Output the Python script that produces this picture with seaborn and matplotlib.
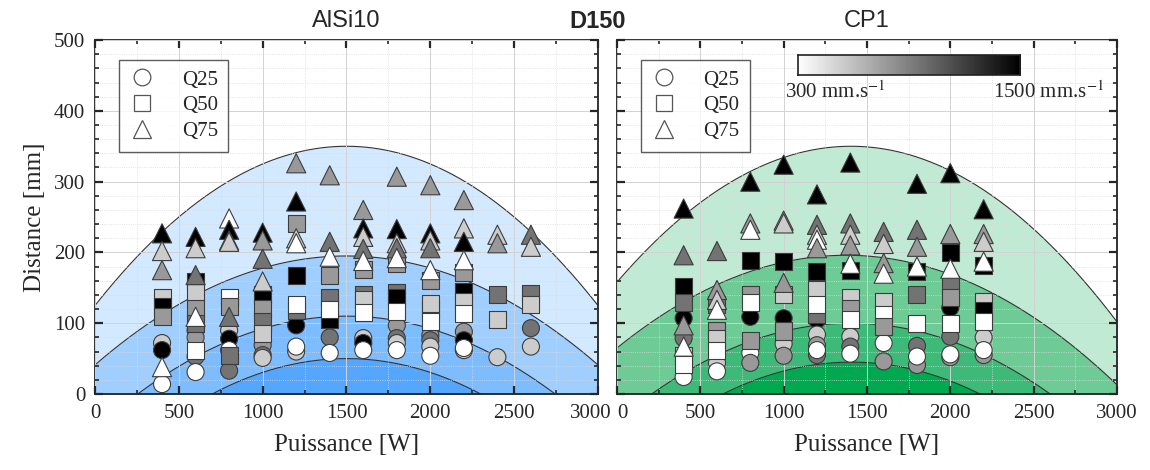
import numpy as np
import pandas as pd
import seaborn as sns
import matplotlib.pyplot as plt
from matplotlib.lines import Line2D
from matplotlib.ticker import MultipleLocator, FuncFormatter
from matplotlib.transforms import ScaledTranslation

W, L, G, D, B = 300, 540, 780, 960, 1500

# ---- AlSi10 ----
al_q75_power = [400, 400, 400, 400, 600, 600, 600, 600, 800, 800, 800, 800, 800,
                1000, 1000, 1000, 1000, 1200, 1200, 1200, 1200, 1400, 1400, 1400,
                1600, 1600, 1600, 1600, 1600, 1800, 1800, 1800, 1800, 1800,
                2000, 2000, 2000, 2000, 2000, 2200, 2200, 2200, 2200, 2400, 2400, 2600, 2600]
al_q75_dist = [227, 202, 175, 38, 222, 206, 168, 109, 248, 232, 217, 215, 109,
               228, 217, 191, 159, 326, 272, 220, 213, 309, 215, 194,
               260, 234, 222, 205, 188, 307, 233, 213, 206, 192,
               295, 227, 217, 206, 175, 274, 234, 215, 189, 225, 213, 225, 208]
al_q75_speed = [B, L, G, W, B, L, D, W, W, B, G, L, D,
                B, G, D, L, G, B, L, W, G, D, W,
                G, B, L, D, W, G, B, L, D, W,
                G, B, L, D, W, G, L, B, W, L, G, D, L]

al_q50_power = [400, 400, 400, 600, 600, 600, 600, 600, 800, 800, 800,
                1000, 1000, 1000, 1000, 1200, 1200, 1200, 1200, 1400, 1400, 1400, 1400,
                1600, 1600, 1600, 1600, 1800, 1800, 1800, 1800, 2000, 2000, 2000, 2000,
                2200, 2200, 2200, 2200, 2400, 2400, 2600, 2600]
al_q50_dist = [137, 124, 109, 159, 143, 121, 100, 61, 137, 123, 55,
               141, 121, 102, 85, 241, 168, 118, 126, 167, 137, 105, 120,
               176, 140, 134, 115, 184, 143, 136, 116, 161, 120, 128, 102,
               171, 145, 130, 114, 141, 105, 142, 126]
al_q50_speed = [L, B, G, B, L, G, D, W, W, G, D,
                B, G, D, L, G, B, D, W, G, D, B, W,
                G, D, L, W, G, D, B, W, G, D, L, W,
                G, B, L, W, D, L, D, L]

al_q25_power = [400, 400, 400, 600, 600, 600, 600, 800, 800, 800, 800,
                1000, 1000, 1000, 1200, 1200, 1200, 1400, 1400, 1600, 1600, 1600,
                1800, 1800, 1800, 1800, 2000, 2000, 2000, 2000, 2200, 2200, 2200, 2200,
                2400, 2600, 2600]
al_q25_dist = [72, 62, 14, 90, 80, 53, 31, 90, 78, 62, 33,
               69, 55, 51, 97, 60, 67, 80, 58, 79, 72, 62,
               97, 79, 72, 62, 83, 76, 67, 54, 88, 76, 62, 65,
               52, 93, 67]
al_q25_speed = [L, B, W, L, G, D, W, L, B, W, D,
                G, D, L, B, L, W, D, W, L, B, W,
                G, D, L, W, G, D, L, W, G, B, L, W,
                L, D, L]

# ---- CP1 ----
cp_q75_power = [400, 400, 400, 400, 600, 600, 600, 600, 800, 800, 800,
                1000, 1000, 1000, 1000, 1200, 1200, 1200, 1200, 1200,
                1400, 1400, 1400, 1400, 1400, 1600, 1600, 1600, 1600,
                1800, 1800, 1800, 1800, 2000, 2000, 2000, 2200, 2200, 2200, 2200]
cp_q75_dist = [262, 196, 97, 67, 202, 147, 133, 119, 300, 241, 232,
               324, 245, 241, 157, 282, 239, 225, 218, 206,
               327, 241, 225, 210, 184, 229, 212, 185, 170,
               297, 232, 208, 180, 312, 226, 177, 261, 226, 215, 187]
cp_q75_speed = [B, D, G, W, D, G, L, W, B, G, W,
                B, G, L, G, B, D, L, W, G,
                B, D, L, G, W, D, L, G, W,
                B, D, G, W, B, G, W, B, G, L, W]

cp_q50_power = [400, 400, 400, 400, 600, 600, 600, 600, 800, 800, 800, 800,
                1000, 1000, 1000, 1200, 1200, 1200, 1200, 1400, 1400, 1400, 1400,
                1600, 1600, 1600, 1800, 1800, 1800, 2000, 2000, 2000, 2000,
                2200, 2200, 2200, 2200]
cp_q50_dist = [152, 129, 55, 41, 126, 90, 79, 62, 189, 141, 129, 76,
               187, 141, 89, 173, 147, 112, 127, 175, 137, 121, 105,
               130, 112, 95, 173, 140, 100, 200, 154, 137, 99,
               181, 130, 118, 102]
cp_q50_speed = [B, D, L, W, D, G, L, W, B, G, W, G,
                B, L, G, B, L, D, W, B, L, G, W,
                L, W, G, B, D, W, B, D, G, W,
                B, L, B, W]

cp_q25_power = [400, 400, 400, 600, 600, 800, 800, 800, 1000, 1000, 1000,
                1200, 1200, 1200, 1200, 1200, 1400, 1400, 1400, 1600, 1600,
                1800, 1800, 1800, 2000, 2000, 2000, 2000, 2200, 2200, 2200]
cp_q25_dist = [107, 79, 24, 44, 32, 109, 58, 44, 107, 71, 54,
               105, 84, 69, 55, 62, 81, 67, 57, 72, 46,
               68, 41, 53, 122, 81, 52, 56, 80, 55, 62]
cp_q25_speed = [B, D, W, L, W, B, W, G, B, L, G,
                B, L, G, D, W, L, D, W, W, G,
                D, G, W, B, D, G, W, L, G, W]

# envelopes: peak distance, peak power, curvature (outer -> inner)
al_env_peak = [350, 195, 110, 50]
al_env_center = [1500, 1500, 1500, 1500]
al_env_curv = [1.0e-4, 6.84e-5, 7.1e-5, 7.8e-5]
al_env_colors = ["#d3e9ff", "#a0ceff", "#7dbcff", "#55a6ff"]

cp_env_peak = [350, 196, 100, 45]
cp_env_center = [1404, 1375, 1404, 1407]
cp_env_curv = [9.74e-5, 6.93e-5, 7.0e-5, 7.57e-5]
cp_env_colors = ["#c0ead3", "#6ecb96", "#3dba78", "#00a84f"]

speed_min, speed_max = 300, 1500

sns.set_style("ticks")
plt.rcParams['font.family'] = ['Liberation Serif', 'DejaVu Serif']
plt.rcParams['mathtext.fontset'] = 'stix'

TICK_FS = 15


def make_df(pw, dist, speed, q):
    return pd.DataFrame({'power': pw, 'dist': dist, 'speed': speed, 'quart': q})


def draw_panel(ax, frames, peaks, centers, curvs, colors, show_ylabels, skip_x):
    xs = np.linspace(0, 3000, 400)
    for pk, c, a, col in zip(peaks, centers, curvs, colors):
        ys = pk - a * (xs - c) ** 2
        ax.fill_between(xs, 0, np.clip(ys, 0, None), color=col, lw=0, zorder=0.5)
        ax.plot(xs, ys, color='#333333', lw=0.8, zorder=1.6)

    df = pd.concat(frames, ignore_index=True)
    sns.scatterplot(data=df, x='power', y='dist', hue='speed', style='quart',
                    size='quart', sizes={'Q25': 150, 'Q50': 150, 'Q75': 190},
                    markers={'Q25': 'o', 'Q50': 's', 'Q75': '^'},
                    palette='gray_r', hue_norm=(speed_min, speed_max),
                    edgecolor='#3c3c3c', linewidth=0.8, legend=False,
                    ax=ax, zorder=3)

    ax.set_xlim(0, 3000)
    ax.set_ylim(0, 500)
    ax.xaxis.set_major_locator(MultipleLocator(500))
    ax.xaxis.set_minor_locator(MultipleLocator(250))
    ax.yaxis.set_major_locator(MultipleLocator(100))
    ax.yaxis.set_minor_locator(MultipleLocator(20))
    # the label at the shared edge is drawn separately, shifted a little
    ax.xaxis.set_major_formatter(FuncFormatter(
        lambda v, p: '' if abs(v - skip_x) < 1 else f'{v:.0f}'))
    ax.set_axisbelow(False)
    ax.grid(which='major', color='#d2d2d2', lw=0.7, zorder=1.5)
    ax.grid(which='minor', color='#dadada', lw=0.6, ls=':', zorder=1.5)
    ax.tick_params(which='major', direction='in', top=True, right=True,
                   length=6, width=1.6, labelsize=TICK_FS, pad=7)
    ax.tick_params(which='minor', direction='in', top=True, right=True,
                   length=3, width=1.2)
    if not show_ylabels:
        ax.tick_params(labelleft=False)
    for sp in ax.spines.values():
        sp.set_linewidth(1.3)
        sp.set_color('#222222')
    ax.set_xlabel('Puissance [W]', fontsize=18, labelpad=8)
    ax.set_ylabel('')

    handles = [Line2D([], [], marker=m, ls='', mfc='white', mec='#555555',
                      mew=0.9, ms=ms) for m, ms in [('o', 12), ('s', 12), ('^', 13)]]
    leg = ax.legend(handles, ['Q25', 'Q50', 'Q75'], loc='upper left',
                    bbox_to_anchor=(0.048, 0.945), fontsize=15, frameon=True,
                    fancybox=False, handlelength=1.2, handletextpad=1.3,
                    labelspacing=0.3, borderpad=0.5, borderaxespad=0)
    leg.get_frame().set_edgecolor('#333333')
    leg.get_frame().set_linewidth(1.0)


fig = plt.figure(figsize=(11.5, 4.7), dpi=100)
ax1 = fig.add_axes([0.0826, 0.1617, 0.4374, 0.753])
ax2 = fig.add_axes([0.5365, 0.1617, 0.4348, 0.753])

al_frames = [make_df(al_q25_power, al_q25_dist, al_q25_speed, 'Q25'),
             make_df(al_q50_power, al_q50_dist, al_q50_speed, 'Q50'),
             make_df(al_q75_power, al_q75_dist, al_q75_speed, 'Q75')]
cp_frames = [make_df(cp_q25_power, cp_q25_dist, cp_q25_speed, 'Q25'),
             make_df(cp_q50_power, cp_q50_dist, cp_q50_speed, 'Q50'),
             make_df(cp_q75_power, cp_q75_dist, cp_q75_speed, 'Q75')]

draw_panel(ax1, al_frames, al_env_peak, al_env_center, al_env_curv, al_env_colors, True, 3000)
draw_panel(ax2, cp_frames, cp_env_peak, cp_env_center, cp_env_curv, cp_env_colors, False, 0)
ax1.set_ylabel('Distance [mm]', fontsize=18, labelpad=6)

ax1.text(1.0, 0.0, '3000', fontsize=TICK_FS, ha='center', va='top',
         transform=ax1.transAxes + ScaledTranslation(-5 / 72, -7 / 72, fig.dpi_scale_trans))
ax2.text(0.0, 0.0, '0', fontsize=TICK_FS, ha='center', va='top',
         transform=ax2.transAxes + ScaledTranslation(4 / 72, -7 / 72, fig.dpi_scale_trans))

# speed colour bar inside the CP1 panel
cax = ax2.inset_axes([0.362, 0.902, 0.444, 0.056])
cax.imshow(np.linspace(0, 1, 256)[None, :], cmap='gray_r', aspect='auto')
cax.set_xticks([])
cax.set_yticks([])
for sp in cax.spines.values():
    sp.set_linewidth(1.2)
    sp.set_color('#222222')
ax2.text(0.436, 0.852, f'{speed_min} mm.s$^{{-1}}$', transform=ax2.transAxes,
         ha='center', va='center', fontsize=15, zorder=5)
ax2.text(0.862, 0.852, f'{speed_max} mm.s$^{{-1}}$', transform=ax2.transAxes,
         ha='center', va='center', fontsize=15, zorder=5)

title_font = ['Liberation Sans Narrow', 'Liberation Sans', 'DejaVu Sans']
fig.text(0.301, 0.955, 'AlSi10', ha='center', va='center', fontsize=17, family=title_font)
fig.text(0.520, 0.955, 'D150', ha='center', va='center', fontsize=17,
         fontweight='bold', family=title_font)
fig.text(0.754, 0.955, 'CP1', ha='center', va='center', fontsize=17, family=title_font)

fig.savefig('out.png', dpi=100)
